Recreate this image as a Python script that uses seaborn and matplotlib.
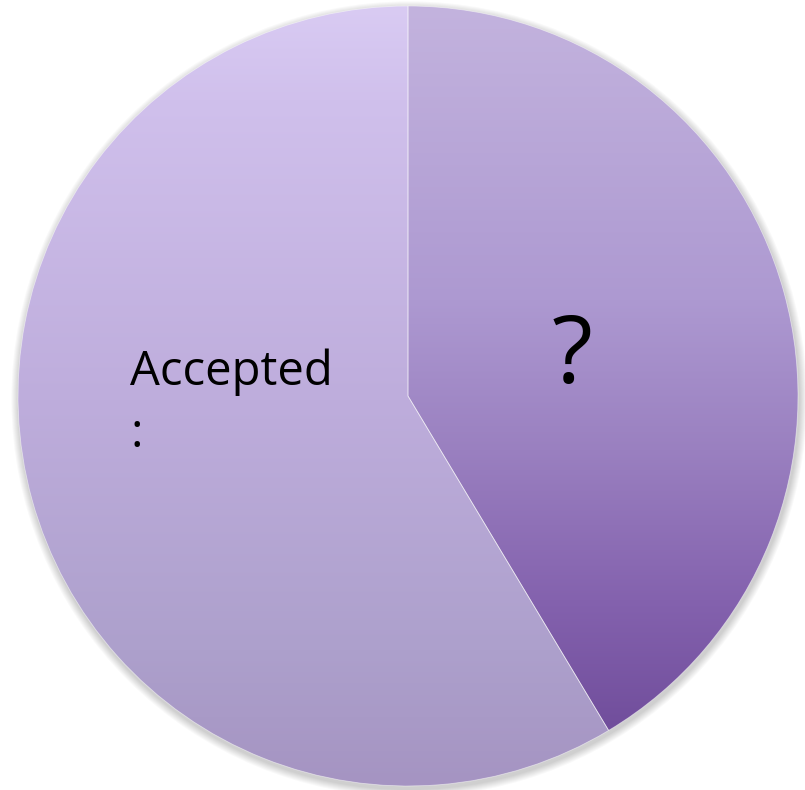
import numpy as np
import matplotlib
matplotlib.use("Agg")
import matplotlib.pyplot as plt
import seaborn as sns
from matplotlib.colors import to_rgb
from matplotlib.patches import Circle

sns.set_theme(style="white")
plt.rcParams['font.family'] = ['Open Sans', 'DejaVu Sans']

# data
labels = ["?", "Accepted\n:"]
values = [41.4, 58.6]
# vertical gradient stops per slice: (pixel y from top, colour)
gradient_stops = [
    [(6, "#C3B3DE"), (300, "#AD99D1"), (450, "#9A80C0"), (600, "#8462AE"), (728, "#714E9C")],
    [(6, "#D9CBF3"), (100, "#D0C0EC"), (400, "#BEADDC"), (650, "#ADA0CC"), (785, "#A594C2")],
]

CX, CY, R = 408, 396, 390
fig = plt.figure(figsize=(8.05, 7.90), dpi=100)
ax = fig.add_axes([0, 0, 1, 1])
xl = (-CX / R, (805 - CX) / R)
yl = (-(790 - CY) / R, CY / R)
ax.set_aspect("equal")
ax.axis("off")

# soft blurred shadow
for i in range(8):
    ax.add_patch(Circle((0.003, -0.008), 1.0 + 0.0025 * (8 - i),
                        facecolor="black", alpha=0.025, edgecolor="none", zorder=0))

wedges, _ = ax.pie(values, startangle=90, counterclock=False, radius=1.0,
                   wedgeprops=dict(edgecolor=(1, 1, 1, 0.5), linewidth=0.6))

py = np.arange(0, 791)
for w, stops in zip(wedges, gradient_stops):
    w.set_facecolor("none")
    ys = [s[0] for s in stops]
    cols = np.array([to_rgb(s[1]) for s in stops])
    img = np.stack([np.interp(py, ys, cols[:, k]) for k in range(3)], axis=1).reshape(-1, 1, 3)
    im = ax.imshow(img, origin="upper", aspect="auto",
                   extent=[xl[0], xl[1], yl[0], yl[1]], zorder=1)
    im.set_clip_path(w)
    w.set_zorder(2)

ax.text((572 - CX) / R, (CY - 383) / R, labels[0], fontsize=68,
        ha="center", va="baseline", color="black", zorder=3)
ax.text((130 - CX) / R, (CY - 447) / R, labels[1], fontsize=34,
        ha="left", va="baseline", color="black", zorder=3, linespacing=1.39,
        multialignment="left")

ax.set_xlim(*xl)
ax.set_ylim(*yl)
fig.savefig("out.png", dpi=100, facecolor="white")
